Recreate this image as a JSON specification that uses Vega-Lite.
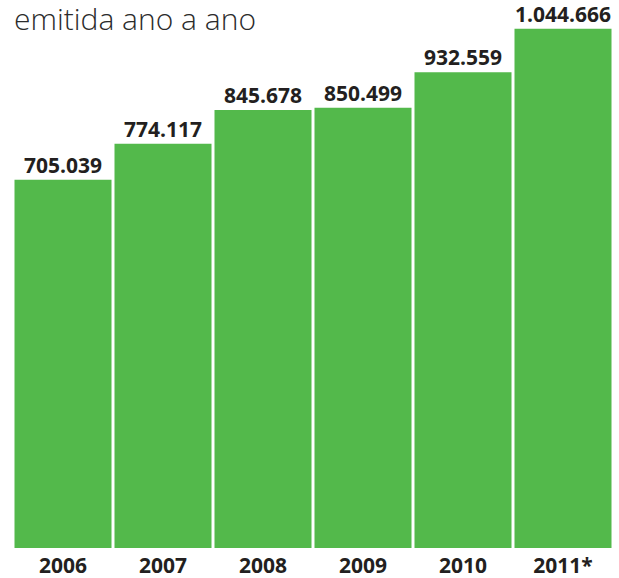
{
  "$schema": "https://vega.github.io/schema/vega-lite/v6.json",
  "autosize": "none",
  "width": 600,
  "height": 528,
  "padding": {"left": 13, "top": 20, "right": 6, "bottom": 30},
  "background": "white",
  "title": {
    "text": "emitida ano a ano",
    "anchor": "start",
    "frame": "group",
    "orient": "top",
    "offset": 0,
    "baseline": "alphabetic",
    "dy": 55,
    "dx": 1,
    "font": "Open Sans",
    "fontWeight": 300,
    "fontSize": 30,
    "color": "#2b2b2b"
  },
  "config": {
    "view": {"stroke": null},
    "locale": {"number": {"decimal": ",", "thousands": ".", "grouping": [3], "currency": ["R$", ""]}}
  },
  "data": {
    "values": [
      {"ano": "2006", "valor": 705039},
      {"ano": "2007", "valor": 774117},
      {"ano": "2008", "valor": 845678},
      {"ano": "2009", "valor": 850499},
      {"ano": "2010", "valor": 932559},
      {"ano": "2011*", "valor": 1044666}
    ]
  },
  "encoding": {
    "x": {
      "field": "ano",
      "type": "nominal",
      "sort": null,
      "scale": {"paddingInner": 0.03, "paddingOuter": 0.015},
      "axis": {
        "title": null,
        "domain": false,
        "ticks": false,
        "labelAngle": 0,
        "labelPadding": 7,
        "labelFont": "Open Sans",
        "labelFontWeight": "bold",
        "labelFontSize": 21,
        "labelColor": "#231f20"
      }
    },
    "y": {
      "field": "valor",
      "type": "quantitative",
      "scale": {"type": "log", "domain": [270110, 1068860], "nice": false, "zero": false},
      "axis": null
    }
  },
  "layer": [
    {
      "mark": {"type": "bar", "color": "#53b94b"},
      "encoding": {"y2": {"datum": 270110}}
    },
    {
      "mark": {
        "type": "text",
        "baseline": "alphabetic",
        "dy": -7,
        "font": "Open Sans",
        "fontWeight": "bold",
        "fontSize": 21,
        "color": "#231f20"
      },
      "encoding": {"text": {"field": "valor", "type": "quantitative", "format": ",d"}}
    }
  ]
}
